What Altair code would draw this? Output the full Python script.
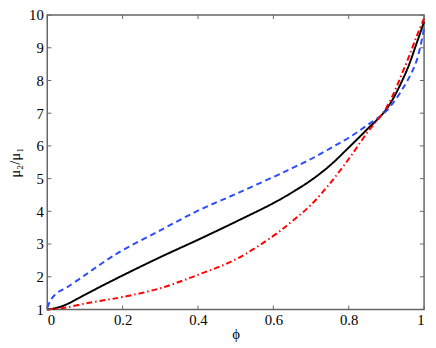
import altair as alt
import pandas as pd

phi = [0, 0.01, 0.025, 0.05, 0.1, 0.15, 0.2, 0.3, 0.4, 0.5, 0.6, 0.65, 0.7, 0.75, 0.8, 0.85, 0.9, 0.95, 0.98, 1.0]
black = [1.0, 1.01, 1.05, 1.15, 1.45, 1.75, 2.04, 2.6, 3.13, 3.68, 4.25, 4.58, 4.95, 5.4, 5.95, 6.52, 7.12, 8.2, 9.13, 9.8]
blue = [1.05, 1.3, 1.5, 1.66, 2.05, 2.45, 2.81, 3.42, 4.02, 4.53, 5.05, 5.32, 5.6, 5.92, 6.25, 6.64, 7.07, 7.88, 8.6, 9.6]
red = [1.0, 1.01, 1.02, 1.06, 1.18, 1.28, 1.38, 1.65, 2.06, 2.53, 3.25, 3.7, 4.2, 4.85, 5.6, 6.42, 7.17, 8.45, 9.34, 9.9]

x_ticks = [0, 0.2, 0.4, 0.6, 0.8, 1]
y_ticks = [1, 2, 3, 4, 5, 6, 7, 8, 9, 10]

series = ["black", "blue", "red"]
colors = ["#000000", "#2a4bff", "#ff0000"]
dashes = [[1, 0], [6, 4], [6, 3, 1.5, 3]]

rows = []
for name, vals in zip(series, [black, blue, red]):
    for xv, yv in zip(phi, vals):
        rows.append({"phi": xv, "ratio": yv, "s": name})
df = pd.DataFrame(rows)

W, H = 428, 337
font = "Liberation Serif, Times New Roman, DejaVu Serif, serif"

xscale = alt.Scale(domain=[0, 1], nice=False)
yscale = alt.Scale(domain=[1, 10], nice=False)

xaxis = alt.Axis(title="ϕ", values=x_ticks, format="~g", labelPadding=3, titlePadding=0)
yaxis = alt.Axis(title="μ₂/μ₁", values=y_ticks, labelPadding=4, titlePadding=6)

lines = alt.Chart(df).mark_line(strokeWidth=2, interpolate="catmull-rom").encode(
    x=alt.X("phi:Q", scale=xscale, axis=xaxis),
    y=alt.Y("ratio:Q", scale=yscale, axis=yaxis),
    color=alt.Color("s:N", scale=alt.Scale(domain=series, range=colors), legend=None),
    strokeDash=alt.StrokeDash("s:N", scale=alt.Scale(domain=series, range=dashes), legend=None),
)

xt = pd.DataFrame({"phi": x_ticks})
yt = pd.DataFrame({"ratio": y_ticks})
tick_color = "#666666"

xb = alt.Chart(xt).mark_rule(color=tick_color, strokeWidth=1).encode(
    x=alt.X("phi:Q", scale=xscale, axis=xaxis),
    y=alt.Y("y0:Q", scale=yscale, axis=yaxis),
    y2=alt.Y2("y1:Q"),
).transform_calculate(y0="1", y1="1.12")
xtop = alt.Chart(xt).mark_rule(color=tick_color, strokeWidth=1).encode(
    x=alt.X("phi:Q", scale=xscale, axis=xaxis),
    y=alt.Y("y0:Q", scale=yscale, axis=yaxis),
    y2=alt.Y2("y1:Q"),
).transform_calculate(y0="10", y1="9.88")
yl = alt.Chart(yt).mark_rule(color=tick_color, strokeWidth=1).encode(
    y=alt.Y("ratio:Q", scale=yscale, axis=yaxis),
    x=alt.X("x0:Q", scale=xscale, axis=xaxis),
    x2=alt.X2("x1:Q"),
).transform_calculate(x0="0", x1="0.011")
yr = alt.Chart(yt).mark_rule(color=tick_color, strokeWidth=1).encode(
    y=alt.Y("ratio:Q", scale=yscale, axis=yaxis),
    x=alt.X("x0:Q", scale=xscale, axis=xaxis),
    x2=alt.X2("x1:Q"),
).transform_calculate(x0="1", x1="0.989")

chart = alt.layer(lines, xb, xtop, yl, yr).properties(
    width=W, height=H, padding={"top": -3, "left": 0, "right": 0, "bottom": 0},
    autosize=alt.AutoSizeParams(type="fit", contains="padding"),
).configure(background="white").configure_view(
    stroke="#666666", strokeWidth=1.5
).configure_axis(
    ticks=False, domain=False, grid=False,
    labelFont=font, labelFontSize=15, titleFont=font, titleFontSize=15,
    titleFontWeight="normal", labelColor="#000000", titleColor="#000000",
)

chart.save("out.html", embed_options={"renderer": "svg", "actions": False})
